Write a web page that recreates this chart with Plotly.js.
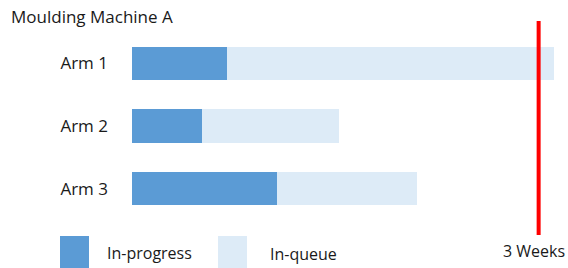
<!DOCTYPE html>
<html>
<head>
<meta charset="utf-8">
<script src="https://cdn.plot.ly/plotly-3.0.1.min.js"></script>
<style>
html,body{margin:0;padding:0;background:#fff;}
#chart{width:568px;height:268px;}
</style>
</head>
<body>
<div id="chart"></div>
<script>
// Data (days)
var arms = ["Arm 1", "Arm 2", "Arm 3"];
var inProgress = [4.9, 3.6, 7.5];
var inQueue = [16.9, 7.1, 7.2];
var targetDays = 21;
var targetLabel = "3 Weeks";
var seriesNames = ["In-progress", "In-queue"];
var chartTitle = "Moulding Machine A";

var colProg = "#5B9BD5";
var colQueue = "#DDEBF7";
var textCol = "#1a1a1a";
var fontFam = "'Open Sans', 'Noto Sans', sans-serif";

var traces = [
  {type: "bar", orientation: "h", y: arms, x: inProgress, name: seriesNames[0],
   marker: {color: colProg}, hoverinfo: "skip"},
  {type: "bar", orientation: "h", y: arms, x: inQueue, name: seriesNames[1],
   marker: {color: colQueue}, hoverinfo: "skip"}
];

var W = 568, H = 268;

var layout = {
  width: W, height: H,
  margin: {l: 132, r: 10, t: 32, b: 48, pad: 0},
  paper_bgcolor: "#ffffff", plot_bgcolor: "#ffffff",
  barmode: "stack",
  bargap: 0.47,
  showlegend: false,
  font: {family: fontFam, color: textCol, size: 16},
  title: {text: chartTitle, x: 11 / W, xref: "container", xanchor: "left",
          y: 1 - 17 / H, yref: "container", yanchor: "middle",
          font: {family: fontFam, size: 17, color: textCol}},
  xaxis: {range: [0, 22], showgrid: false, zeroline: false, showline: false,
          showticklabels: false, ticks: ""},
  yaxis: {autorange: "reversed", showgrid: false, zeroline: false, showline: false,
          ticks: "", ticklabelstandoff: 23, tickfont: {size: 17, color: textCol}},
  shapes: [
    {type: "line", xref: "x", yref: "paper", x0: targetDays, x1: targetDays,
     y0: (220 - 235) / 188, y1: (220 - 21) / 188,
     line: {color: "#FF0000", width: 4}},
    {type: "rect", xref: "paper", yref: "paper", layer: "above",
     x0: (60 - 132) / 426, x1: (89 - 132) / 426, y0: (220 - 236) / 188, y1: (220 - 270) / 188,
     fillcolor: colProg, line: {width: 0}},
    {type: "rect", xref: "paper", yref: "paper", layer: "above",
     x0: (218 - 132) / 426, x1: (247 - 132) / 426, y0: (220 - 236) / 188, y1: (220 - 270) / 188,
     fillcolor: colQueue, line: {width: 0}}
  ],
  annotations: [
    {text: seriesNames[0], xref: "paper", yref: "paper", x: (105 - 132) / 426, y: (220 - 253) / 188,
     xanchor: "left", yanchor: "middle", showarrow: false, font: {size: 16, color: textCol}},
    {text: seriesNames[1], xref: "paper", yref: "paper", x: (268 - 132) / 426, y: (220 - 254) / 188,
     xanchor: "left", yanchor: "middle", showarrow: false, font: {size: 16, color: textCol}},
    {text: targetLabel, xref: "paper", yref: "paper", x: (501 - 132) / 426, y: (220 - 251) / 188,
     xanchor: "left", yanchor: "middle", showarrow: false, font: {size: 16, color: textCol}}
  ]
};

Plotly.newPlot("chart", traces, layout, {staticPlot: true, displayModeBar: false});
</script>
</body>
</html>
